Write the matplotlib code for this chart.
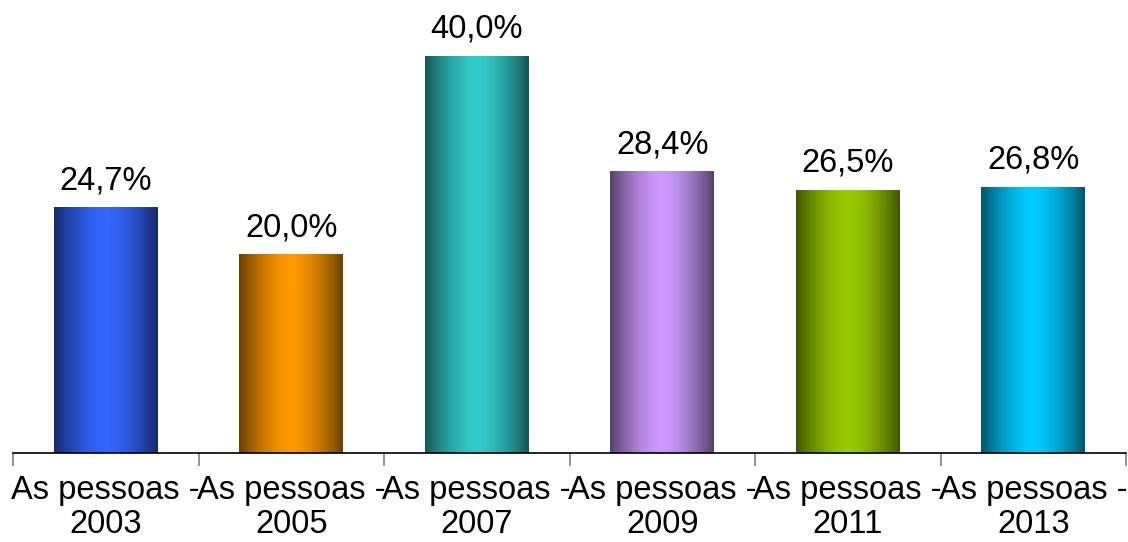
import numpy as np
import matplotlib
matplotlib.use("Agg")
import matplotlib.pyplot as plt
from matplotlib.colors import to_rgb

plt.rcParams['font.family'] = ['Liberation Sans', 'DejaVu Sans']

categories = ["As pessoas -\n2003", "As pessoas -\n2005", "As pessoas -\n2007",
              "As pessoas -\n2009", "As pessoas -\n2011", "As pessoas -\n2013"]
values = [24.7, 20.0, 40.0, 28.4, 26.5, 26.8]
value_labels = ["24,7%", "20,0%", "40,0%", "28,4%", "26,5%", "26,8%"]
colors = ["#3366FF", "#FF9900", "#33CCCC", "#CC99FF", "#99CC00", "#00CCFF"]

W, H = 1128, 542
fig = plt.figure(figsize=(W / 100, H / 100), dpi=100)
ymax = 45
ax = fig.add_axes([13 / W, (H - 453) / H, (1126 - 13) / W, (453 - 6.4) / H])
ax.set_xlim(-0.5, len(values) - 0.5)
ax.set_ylim(0, ymax)

bars = ax.bar(range(len(values)), values, width=0.56, color="none", edgecolor="none")

n = 256
xs = np.linspace(0, 1, n)
prof = 1 - np.abs(2 * xs - 1) ** 1.6
dark = 0.42
for b, c in zip(bars, colors):
    rgb = np.array(to_rgb(c))
    fac = dark + (1 - dark) * prof
    img = (rgb[None, :] * fac[:, None])[None, :, :]
    x0, y0 = b.get_x(), b.get_y()
    ax.imshow(img, extent=[x0, x0 + b.get_width(), y0, y0 + b.get_height()],
              aspect="auto", interpolation="bilinear", zorder=2)

for b, lab in zip(bars, value_labels):
    ax.annotate(lab, (b.get_x() + b.get_width() / 2, b.get_height()),
                xytext=(0, 8), textcoords="offset points", ha="center", va="bottom",
                fontsize=23.5, color="black")

ax.set_xlim(-0.5, len(values) - 0.5)
ax.set_ylim(0, ymax)

for s in ["top", "right", "left"]:
    ax.spines[s].set_visible(False)
ax.spines["bottom"].set_color("black")
ax.spines["bottom"].set_linewidth(1.2)
ax.set_yticks([])

ax.set_xticks(np.arange(len(values)))
ax.set_xticklabels(categories, fontsize=23.5, linespacing=1.12)
ax.tick_params(axis="x", which="major", length=0, pad=16)
ax.set_xticks(np.arange(-0.5, len(values), 1), minor=True)
ax.tick_params(axis="x", which="minor", length=9, color="#808080", width=1.2)

fig.savefig("out.png", dpi=100)
